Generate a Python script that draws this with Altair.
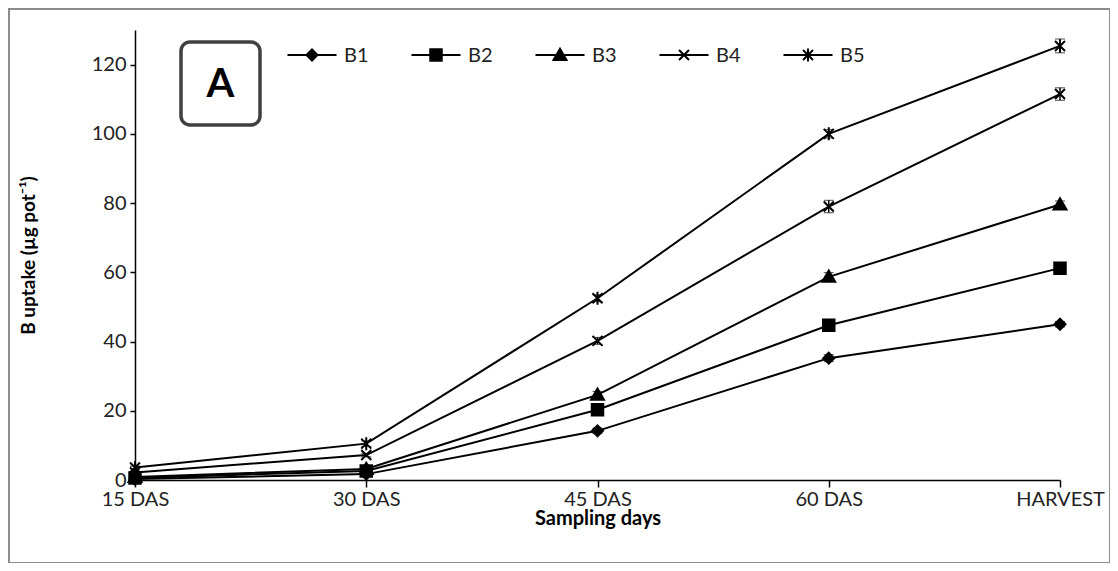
import altair as alt
import pandas as pd

days = ["15 DAS", "30 DAS", "45 DAS", "60 DAS", "HARVEST"]
series = ["B1", "B2", "B3", "B4", "B5"]

b1 = [0.3, 1.7, 14.2, 35.2, 45.0]
b2 = [0.6, 2.6, 20.3, 44.7, 61.2]
b3 = [0.9, 3.2, 24.6, 58.7, 79.6]
b4 = [2.2, 7.2, 40.2, 79.0, 111.5]
b5 = [3.6, 10.5, 52.5, 100.0, 125.4]

e1 = [0.2, 0.3, 0.8, 1.0, 0.8]
e2 = [0.2, 0.4, 1.2, 1.0, 1.2]
e3 = [0.2, 0.4, 1.0, 1.2, 1.0]
e4 = [0.3, 0.5, 1.0, 1.8, 1.8]
e5 = [0.4, 0.8, 1.0, 1.2, 2.0]

rows = []
for s, vals, errs in zip(series, [b1, b2, b3, b4, b5], [e1, e2, e3, e4, e5]):
    for d, v, e in zip(days, vals, errs):
        rows.append({"day": d, "series": s, "value": v, "lo": v - e, "hi": v + e})
df = pd.DataFrame(rows)

shape_paths = [
    "M0,-1.1L1.1,0L0,1.1L-1.1,0Z",
    "M-1.15,-1.15H1.15V1.15H-1.15Z",
    "M0,-1.25L1.3,1L-1.3,1Z",
    "M-1,-1L1,1M-1,1L1,-1",
    "M-1,-1L1,1M-1,1L1,-1M0,-1.3V1.3",
]
shape_scale = alt.Scale(domain=series, range=shape_paths)

FONT = "Lato"
Y_TITLE = "B uptake (µg pot⁻¹)"

x_enc = alt.X(
    "day:O",
    sort=days,
    scale=alt.Scale(type="point", domain=days, padding=0),
    axis=alt.Axis(
        labelAngle=0, tickSize=7, tickColor="black", tickWidth=1.5,
        domainColor="black", domainWidth=1.5,
        labelFont=FONT, labelFontSize=20, labelColor="#222222", labelPadding=2,
        title="Sampling days", titleFont=FONT, titleFontSize=20,
        titleFontWeight="bold", titleColor="black", titlePadding=-1,
    ),
)
y_axis = alt.Axis(
    values=[0, 20, 40, 60, 80, 100, 120], grid=False,
    tickSize=5, tickColor="black", tickWidth=1.5,
    domainColor="black", domainWidth=1.5,
    labelFont=FONT, labelFontSize=20, labelColor="#222222", labelPadding=4,
    title=Y_TITLE, titleFont=FONT, titleFontSize=19,
    titleFontWeight="bold", titleColor="black", titlePadding=53,
)
y_enc = alt.Y(
    "value:Q",
    title=Y_TITLE,
    scale=alt.Scale(domain=[0, 130], nice=False, zero=True),
    axis=y_axis,
)

base = alt.Chart(df)
lines = base.mark_line(color="black", strokeWidth=2).encode(
    x=x_enc, y=y_enc, detail="series:N"
)
errs = base.mark_errorbar(
    ticks={"size": 10, "color": "black", "strokeWidth": 1.5},
    rule={"color": "black", "strokeWidth": 1.5},
).encode(
    x=alt.X("day:O", sort=days),
    y=alt.Y("lo:Q", title=Y_TITLE),
    y2=alt.Y2("hi:Q", title=Y_TITLE),
)
points = base.mark_point(
    filled=True, fill="black", stroke="black", strokeWidth=2, opacity=1, size=100
).encode(
    x=alt.X("day:O", sort=days),
    y=alt.Y("value:Q", title=Y_TITLE),
    shape=alt.Shape("series:N", scale=shape_scale, legend=None),
)
main = alt.layer(lines, errs, points)

leg_df = pd.DataFrame({"series": series})
leg_x = alt.X(
    "series:N",
    scale=alt.Scale(type="point", domain=series, range=[177, 673], padding=0),
    axis=None,
)
leg_base = alt.Chart(leg_df)
leg_line = leg_base.mark_point(
    shape="M-2.45,0H2.45", size=400, stroke="black", strokeWidth=2, opacity=1
).encode(x=leg_x, y=alt.value(25))
leg_pts = leg_base.mark_point(
    filled=True, fill="black", stroke="black", strokeWidth=2, opacity=1, size=100
).encode(
    x=leg_x, y=alt.value(25),
    shape=alt.Shape("series:N", scale=shape_scale, legend=None),
)
leg_txt = leg_base.mark_text(
    align="left", baseline="middle", dx=32, font=FONT, fontSize=20, color="#222222"
).encode(x=leg_x, y=alt.value(26), text="series:N")
legend = alt.layer(leg_line, leg_pts, leg_txt)

one = pd.DataFrame({"k": [0]})
frame = alt.Chart(one).mark_rect(
    fill="white", fillOpacity=0, stroke="#8c8c8c", strokeWidth=2
).encode(x=alt.value(-126), x2=alt.value(975), y=alt.value(-21), y2=alt.value(533))
box = alt.Chart(one).mark_rect(
    fill="white", stroke="#404040", strokeWidth=3.5, cornerRadius=9
).encode(x=alt.value(46), x2=alt.value(125), y=alt.value(12), y2=alt.value(95))
box_txt = alt.Chart(one).mark_text(
    text="A", font=FONT, fontSize=40, fontWeight="bold", color="black",
    align="center", baseline="middle",
).encode(x=alt.value(85.5), y=alt.value(55))

chart = (
    alt.layer(frame, box, box_txt, main, legend)
    .resolve_scale(x="independent")
    .properties(
        width=925,
        height=450,
        padding={"left": 127, "top": 22, "right": 50, "bottom": 83},
        autosize=alt.AutoSizeParams(type="none"),
        background="white",
    )
    .configure_view(stroke=None)
)

chart.save("out.html", embed_options={"renderer": "svg", "actions": False})
